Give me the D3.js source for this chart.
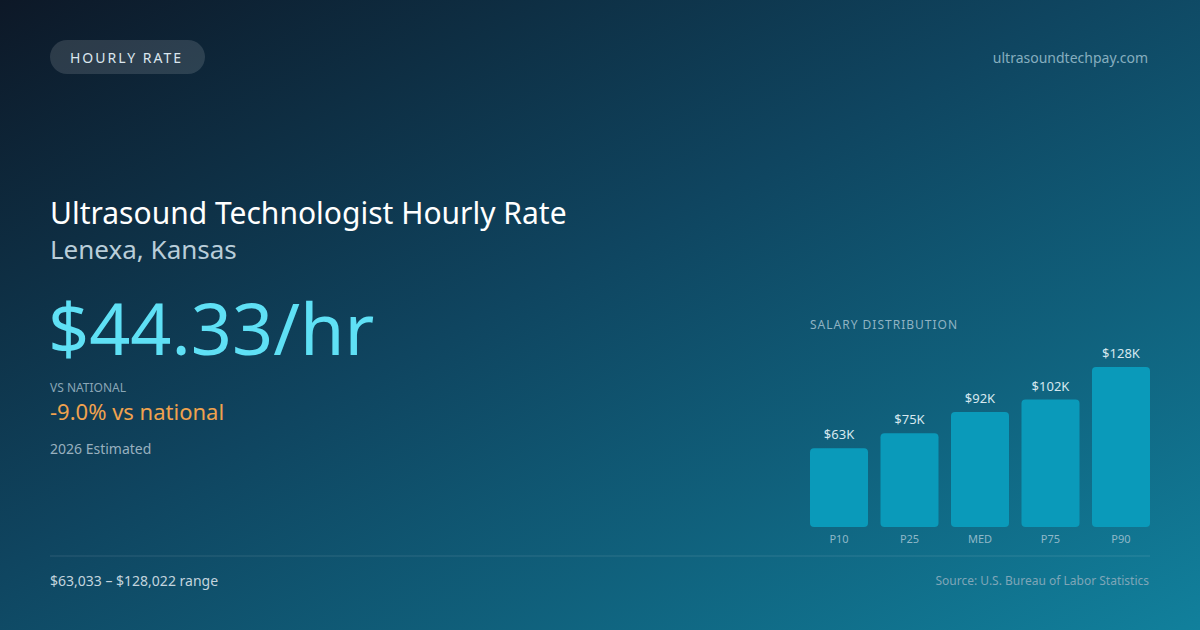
<!DOCTYPE html>
<html>
<head>
<meta charset="utf-8">
<script src="https://cdn.jsdelivr.net/npm/d3@7"></script>
<style>
  html, body { margin: 0; padding: 0; background: #0f1c2b; }
  svg { display: block; font-family: "Noto Sans", "Open Sans", sans-serif; }
</style>
</head>
<body>
<div id="card"></div>
<script>
// Chart data
var categories = ["P10", "P25", "MED", "P75", "P90"];
var salaries = [63033, 75000, 92000, 102000, 128022]; // annual, USD
var hourlyRate = 44.33;
var vsNational = -9.0;
var cityName = "Lenexa, Kansas";

var svgWidth = 1200;
var svgHeight = 630;

var svg = d3
  .select("#card")
  .append("svg")
  .attr("width", svgWidth)
  .attr("height", svgHeight);

// Background gradient
var defs = svg.append("defs");
var bg = defs
  .append("linearGradient")
  .attr("id", "bg")
  .attr("x1", "0%")
  .attr("y1", "0%")
  .attr("x2", "100%")
  .attr("y2", "100%");
bg.append("stop").attr("offset", "0%").attr("stop-color", "#0d1827");
bg.append("stop").attr("offset", "45%").attr("stop-color", "#0f4560");
bg.append("stop").attr("offset", "100%").attr("stop-color", "#11809c");

svg
  .append("rect")
  .attr("width", svgWidth)
  .attr("height", svgHeight)
  .attr("fill", "url(#bg)");

// Pill badge
svg
  .append("rect")
  .attr("x", 50)
  .attr("y", 40)
  .attr("width", 155)
  .attr("height", 34)
  .attr("rx", 17)
  .attr("fill", "rgba(255,255,255,0.13)");

svg
  .append("text")
  .attr("x", 70)
  .attr("y", 63)
  .attr("fill", "#dbe6ee")
  .style("font-size", "14px")
  .style("letter-spacing", "2px")
  .text("HOURLY RATE");

svg
  .append("text")
  .attr("x", 1148)
  .attr("y", 63)
  .attr("text-anchor", "end")
  .attr("fill", "#86aebf")
  .style("font-size", "14px")
  .text("ultrasoundtechpay.com");

// Headline text
svg
  .append("text")
  .attr("x", 50)
  .attr("y", 224)
  .attr("fill", "#ffffff")
  .style("font-size", "30px")
  .text("Ultrasound Technologist Hourly Rate");

svg
  .append("text")
  .attr("x", 50)
  .attr("y", 259)
  .attr("fill", "#b9cdd9")
  .style("font-size", "26px")
  .text(cityName);

svg
  .append("text")
  .attr("x", 48)
  .attr("y", 355)
  .attr("fill", "#5fe0f5")
  .style("font-size", "72px")
  .text("$" + hourlyRate.toFixed(2) + "/hr");

svg
  .append("text")
  .attr("x", 50)
  .attr("y", 392)
  .attr("fill", "#8aa6b6")
  .style("font-size", "12px")
  .text("VS NATIONAL");

svg
  .append("text")
  .attr("x", 50)
  .attr("y", 420)
  .attr("fill", "#f0a24e")
  .style("font-size", "22px")
  .text(vsNational.toFixed(1) + "% vs national");

svg
  .append("text")
  .attr("x", 50)
  .attr("y", 454)
  .attr("fill", "#98b0bf")
  .style("font-size", "14px")
  .text("2026 Estimated");

// Salary distribution bars
var xBandScale = d3
  .scaleBand()
  .domain(categories)
  .range([810, 1150])
  .paddingInner(0.177)
  .paddingOuter(0);

var yLinearScale = d3
  .scaleLinear()
  .domain([0, 128000])
  .range([527, 367]);

svg
  .append("text")
  .attr("x", 810)
  .attr("y", 329)
  .attr("fill", "#8fb3c3")
  .style("font-size", "12px")
  .style("letter-spacing", "1px")
  .text("SALARY DISTRIBUTION");

var barGroup = svg.append("g");

barGroup
  .selectAll("rect")
  .data(salaries)
  .enter()
  .append("rect")
  .attr("x", (d, i) => xBandScale(categories[i]))
  .attr("y", d => yLinearScale(d))
  .attr("width", xBandScale.bandwidth())
  .attr("height", d => yLinearScale(0) - yLinearScale(d))
  .attr("rx", 4)
  .attr("fill", "#0a9aba");

barGroup
  .selectAll(".barLabel")
  .data(salaries)
  .enter()
  .append("text")
  .classed("barLabel", true)
  .attr("x", (d, i) => xBandScale(categories[i]) + xBandScale.bandwidth() / 2)
  .attr("y", d => yLinearScale(d) - 9)
  .attr("text-anchor", "middle")
  .attr("fill", "#d6e8ef")
  .style("font-size", "13px")
  .text(d => "$" + Math.round(d / 1000) + "K");

var bottomAxis = d3.axisBottom(xBandScale).tickSize(0).tickPadding(8);

var xAxis = svg
  .append("g")
  .attr("transform", "translate(0,527)")
  .call(bottomAxis);

xAxis.select(".domain").remove();
xAxis
  .selectAll("text")
  .attr("fill", "#8fb8c8")
  .style("font-size", "11px")
  .style("font-family", "'Noto Sans', 'Open Sans', sans-serif");

// Footer
svg
  .append("line")
  .attr("x1", 50)
  .attr("x2", 1150)
  .attr("y1", 556)
  .attr("y2", 556)
  .attr("stroke", "rgba(255,255,255,0.12)")
  .attr("stroke-width", 1);

var fmt = d3.format(",");
svg
  .append("text")
  .attr("x", 50)
  .attr("y", 586)
  .attr("fill", "#c3d4de")
  .style("font-size", "14px")
  .text("$" + fmt(salaries[0]) + " – $" + fmt(salaries[salaries.length - 1]) + " range");

svg
  .append("text")
  .attr("x", 1149)
  .attr("y", 585)
  .attr("text-anchor", "end")
  .attr("fill", "#7fa6b8")
  .style("font-size", "12px")
  .text("Source: U.S. Bureau of Labor Statistics");
</script>
</body>
</html>
